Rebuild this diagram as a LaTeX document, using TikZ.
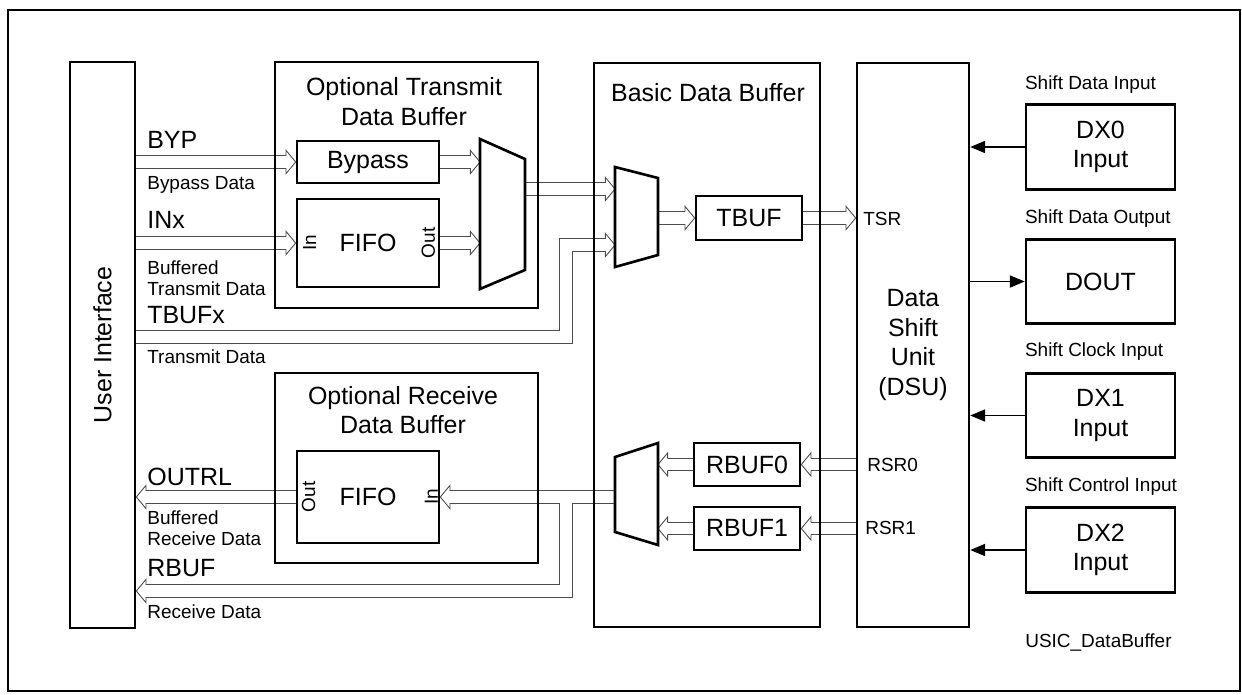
\documentclass[tikz,border=0pt]{standalone}
\usepackage{fontspec}
\setmainfont{Liberation Sans}
\usetikzlibrary{arrows.meta,calc,positioning,backgrounds,decorations.markings}

\newcommand{\biglbl}{\fontsize{14.2}{16.8}\selectfont}
\newcommand{\smlbl}{\fontsize{10.8}{12}\selectfont}

\tikzset{
  blk/.style={draw, line width=1.5pt, inner sep=0pt, font=\biglbl, align=center},
  muxbox/.style={inner sep=0pt, outer sep=0pt},
  mux/.style={draw, line width=1.5pt, line join=miter},
  lbl/.style={inner sep=0pt, font=\biglbl},
  smlbl/.style={inner sep=0pt, font=\smlbl, align=left},
  sig/.style={draw, line width=0.6pt, -{Triangle[length=8.5pt, width=7pt]}},
  bus/.style={draw=white, line width=6.6pt, shorten >=4.8pt,
    preaction={draw=black!70, line width=7.6pt, shorten >=4.8pt},
    postaction={decorate, decoration={markings, mark=at position 1 with {
      \filldraw[fill=white, draw=black!70, line width=0.5pt, shorten >=0pt, shorten <=0pt]
        (-5.5pt,3.55pt) -- (-5.5pt,6.6pt) -- (0pt,0pt) -- (-5.5pt,-6.6pt) -- (-5.5pt,-3.55pt);}}}},
}

\begin{document}
\begin{tikzpicture}[x=0.02cm, y=-0.02cm]
  \useasboundingbox (0,0) rectangle (1242,694);
  \draw[line width=1.1pt] (8,10) rectangle (1240,691);

  % user interface
  \node[blk, minimum width=1.3cm, minimum height=11.32cm] (ui) at (102.5,345) {};
  \node[lbl, rotate=90] (uilbl) at (ui.center) {User Interface};

  % optional transmit buffer
  \node[blk, minimum width=5.26cm, minimum height=4.92cm] (txbuf) at (406.5,185) {};
  \node[lbl, align=center] (txbuftitle) at (404,101.5) {Optional Transmit\\Data Buffer};
  \node[blk, minimum width=2.84cm, minimum height=0.84cm] (bypass) at (368,162) {Bypass};
  \node[blk, minimum width=2.84cm, minimum height=1.76cm] (txfifo) at (368,243) {FIFO};
  \node[smlbl, rotate=90] (txfifoin) at ($(txfifo.west)+(14,0)$) {In};
  \node[smlbl, rotate=90] (txfifoout) at ($(txfifo.east)+(-12,0)$) {Out};
  \node[muxbox, minimum width=0.9cm, minimum height=3cm] (txmux) at (502.5,214) {};

  % basic data buffer
  \node[blk, minimum width=4.52cm, minimum height=11.28cm] (bdb) at (707,345) {};
  \node[lbl] (bdbtitle) at (708,93) {Basic Data Buffer};
  \node[muxbox, minimum width=0.86cm, minimum height=2cm] (bmuxtx) at (636.5,217) {};
  \node[blk, minimum width=2.12cm, minimum height=0.88cm] (tbuf) at (749,218) {TBUF};
  \node[blk, minimum width=2.12cm, minimum height=0.86cm] (rbuf0) at (747,464.5) {RBUF0};
  \node[blk, minimum width=2.12cm, minimum height=0.86cm] (rbuf1) at (747,528.5) {RBUF1};
  \node[muxbox, minimum width=0.86cm, minimum height=2.04cm] (bmuxrx) at (636.5,494) {};

  % optional receive buffer
  \node[blk, minimum width=5.26cm, minimum height=3.8cm] (rxbuf) at (406.5,468) {};
  \node[lbl, align=center] (rxbuftitle) at (403,410) {Optional Receive\\Data Buffer};
  \node[blk, minimum width=2.84cm, minimum height=1.84cm] (rxfifo) at (368,497) {FIFO};
  \node[smlbl, rotate=90] (rxfifoout) at ($(rxfifo.west)+(13,0)$) {Out};
  \node[smlbl, rotate=90] (rxfifoin) at ($(rxfifo.east)+(-9,0)$) {In};

  % shift unit and pins
  \node[blk, minimum width=2.24cm, minimum height=11.28cm] (dsu) at (913,345) {Data\\Shift\\Unit\\(DSU)};
  \node[blk, minimum width=2.98cm, minimum height=1.69cm] (dx0) at (1100.5,147) {DX0\\Input};
  \node[blk, minimum width=2.98cm, minimum height=1.69cm] (dout) at (1100.5,281.5) {DOUT};
  \node[blk, minimum width=2.98cm, minimum height=1.69cm] (dx1) at (1100.5,415.5) {DX1\\Input};
  \node[blk, minimum width=2.98cm, minimum height=1.69cm] (dx2) at (1100.5,550) {DX2\\Input};
  \node[smlbl, anchor=west] (dx0lbl) at ($(dx0.north west)+(0,-19)$) {Shift Data Input};
  \node[smlbl, anchor=west] (doutlbl) at ($(dout.north west)+(0,-19)$) {Shift Data Output};
  \node[smlbl, anchor=west] (dx1lbl) at ($(dx1.north west)+(0,-20)$) {Shift Clock Input};
  \node[smlbl, anchor=west] (dx2lbl) at ($(dx2.north west)+(0,-20)$) {Shift Control Input};
  \node[smlbl, anchor=west] (figid) at (1025,643) {USIC\_DataBuffer};

  % bus labels
  \node[lbl, anchor=west] (byplbl) at (147,140) {BYP};
  \node[smlbl, anchor=west] (bypdata) at (147,185) {Bypass Data};
  \node[lbl, anchor=west] (inxlbl) at (147,220) {INx};
  \node[smlbl, anchor=west] (inxdata) at (147,278) {Buffered\\Transmit Data};
  \node[lbl, anchor=west] (tbufxlbl) at (147,315) {TBUFx};
  \node[smlbl, anchor=west] (tbufxdata) at (147,357) {Transmit Data};
  \node[lbl, anchor=west] (outrllbl) at (147,477) {OUTRL};
  \node[smlbl, anchor=west] (outrldata) at (147,528) {Buffered\\Receive Data};
  \node[lbl, anchor=west] (rbuflbl) at (147,568) {RBUF};
  \node[smlbl, anchor=west] (rbufdata) at (147,612) {Receive Data};
  \node[smlbl, anchor=west] (tsr) at (863,219) {TSR};
  \node[smlbl, anchor=west] (rsr0) at (867,465) {RSR0};
  \node[smlbl, anchor=west] (rsr1) at (865,528) {RSR1};

  % multiplexers
  \draw[mux] (txmux.north west) -- ($(txmux.north east)+(0,20)$) -- ($(txmux.south east)+(0,-19)$) -- (txmux.south west) -- cycle;
  \draw[mux] (bmuxtx.north west) -- ($(bmuxtx.north east)+(0,11)$) -- ($(bmuxtx.south east)+(0,-12)$) -- (bmuxtx.south west) -- cycle;
  \draw[mux] ($(bmuxrx.north west)+(0,14)$) -- (bmuxrx.north east) -- (bmuxrx.south east) -- ($(bmuxrx.south west)+(0,-13)$) -- cycle;

  \coordinate (busx) at (566,345);
  \coordinate (txout) at ($(txmux.east)+(0,-25)$);
  \coordinate (tbufxin) at ($(bmuxtx.west)+(0,28)$);
  \coordinate (tbufxst) at ($(ui.east)+(0,-8)$);
  \coordinate (rbufrow) at ($(ui.east)+(0,246)$);
  \coordinate (rxsplit) at ($(rxfifo.east -| busx)+(0,5.5)$);

  % data buses
  \begin{scope}[on background layer]
    \draw[bus] (ui.east |- bypass.west) -- (bypass.west);
    \draw[bus] (bypass.east) -- (bypass.east -| txmux.west);
    \draw[bus] (ui.east |- txfifo.west) -- (txfifo.west);
    \draw[bus] (txfifo.east) -- (txfifo.east -| txmux.west);
    \draw[bus] (txout) -- (txout -| bmuxtx.west);
    \draw[bus] (tbufxst) -- (tbufxst -| busx) -- (busx |- tbufxin) -- (tbufxin);
    \draw[bus] (bmuxtx.east |- tbuf.west) -- (tbuf.west);
    \draw[bus] (tbuf.east) -- (tbuf.east -| dsu.west);
    \draw[bus] (rbuf0.east -| dsu.west) -- (rbuf0.east);
    \draw[bus] (rbuf1.east -| dsu.west) -- (rbuf1.east);
    \draw[bus] (rbuf0.west) -- (rbuf0.west -| bmuxrx.east);
    \draw[bus] (rbuf1.west) -- (rbuf1.west -| bmuxrx.east);
    \draw[bus] (rxfifo.east -| bmuxrx.west) -- (rxfifo.east);
    \draw[bus] (rxfifo.west) -- (rxfifo.west -| ui.east);
    \draw[bus] (rxsplit) -- (rxsplit |- rbufrow) -- (rbufrow);
  \end{scope}

  % pin signals
  \draw[sig] (dx0.west) -- (dx0.west -| dsu.east);
  \draw[sig] (dsu.east |- dout.west) -- (dout.west);
  \draw[sig] (dx1.west) -- (dx1.west -| dsu.east);
  \draw[sig] (dx2.west) -- (dx2.west -| dsu.east);
\end{tikzpicture}
\end{document}
